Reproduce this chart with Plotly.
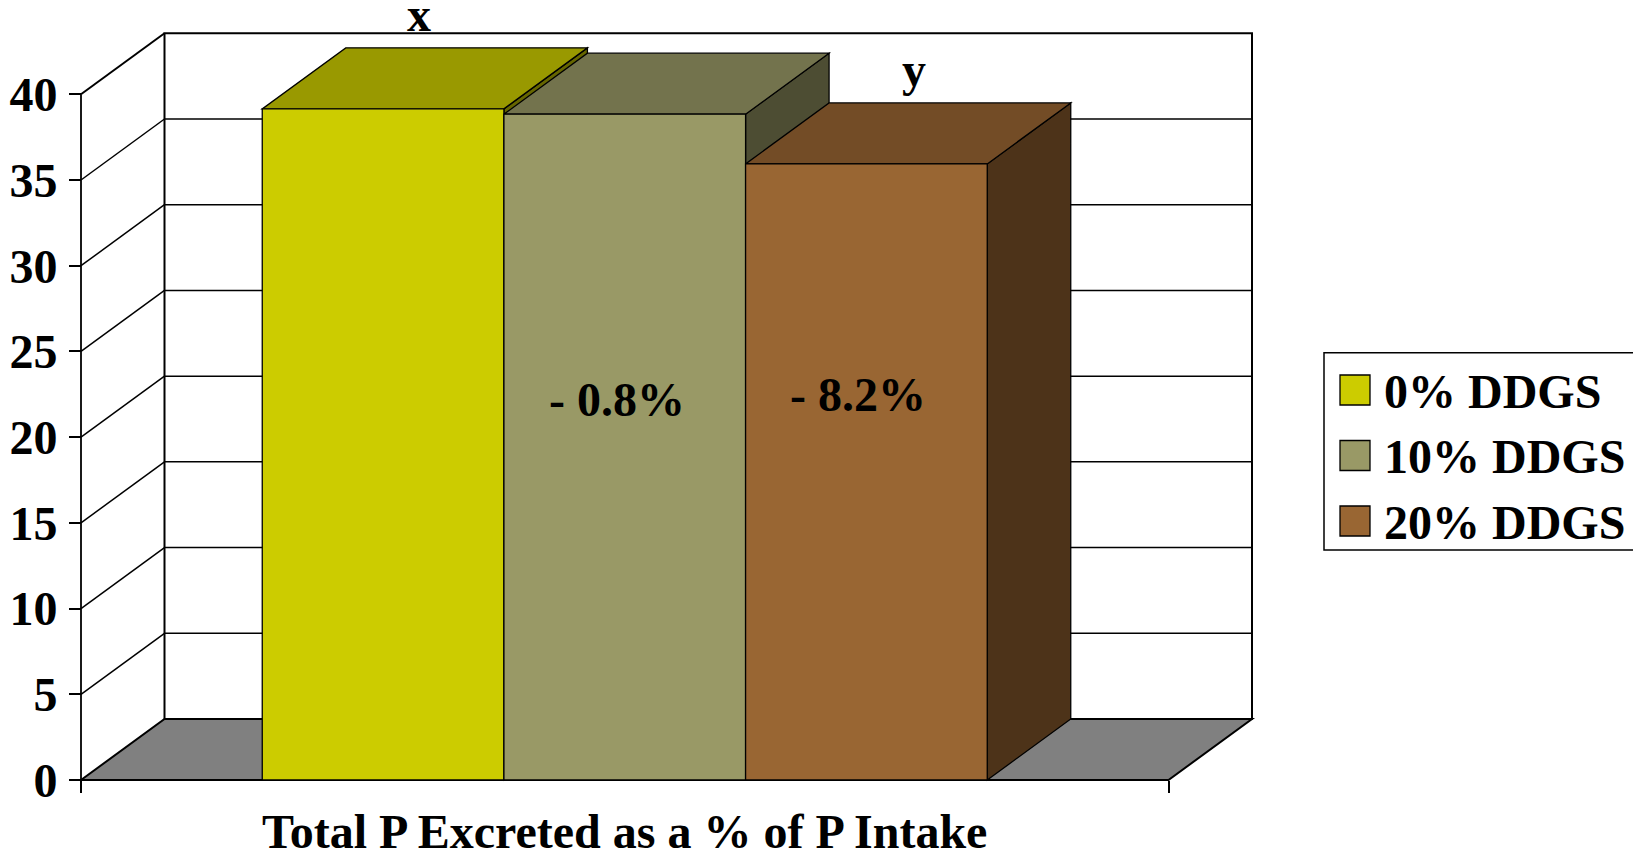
import plotly.graph_objects as go

# ---- data -------------------------------------------------------------
category = "Total P Excreted as a % of P Intake"
series_names = ["0% DDGS", "10% DDGS", "20% DDGS"]
values = [39.15, 38.84, 35.94]            # % of P intake excreted
change_labels = ["", "- 0.8%", "- 8.2%"]   # change relative to 0% DDGS
letters = ["x", "", "y"]                   # significance letters
y_ticks = [0, 5, 10, 15, 20, 25, 30, 35, 40]

# ---- colours (front / top / side of each column) ---------------------
front_colors = ["#CCCC00", "#999966", "#996633"]
top_colors = ["#999900", "#73734D", "#734C26"]
side_colors = ["#666600", "#4D4D33", "#4D3319"]
FLOOR = "#808080"

# ---- page geometry ---------------------------------------------------
W, H = 1633, 856
ML, MR, MT, MB = 70, 371, 20, 66
PW, PH = W - ML - MR, H - MT - MB
FRONT_LEFT_PX, FRONT_RIGHT_PX = 81.0, 1168.5      # front plane, x = -0.5 .. 0.5
ZERO_PX, TOP_PX = 780.0, 94.3                     # front plane, y = 0 .. 40
DEPTH_PX = (83.5, 61.0)                           # oblique depth offset

XS = (FRONT_RIGHT_PX - FRONT_LEFT_PX) / 1.0
YS = (ZERO_PX - TOP_PX) / 40.0
x_range = [-0.5 - (FRONT_LEFT_PX - ML) / XS, -0.5 + (ML + PW - FRONT_LEFT_PX) / XS]
y_range = [-(MT + PH - ZERO_PX) / YS, (ZERO_PX - MT) / YS]
DX, DY = DEPTH_PX[0] / XS, DEPTH_PX[1] / YS

BARGAP = 1 / 3
n = len(values)
bar_w = (1 - BARGAP) / n
lefts = [-(1 - BARGAP) / 2 + i * bar_w for i in range(n)]
rights = [l + bar_w for l in lefts]
centers = [l + bar_w / 2 for l in lefts]

FONT = dict(family="Liberation Serif", size=48, color="black", weight="bold")


def px_x(px):
    return (px - ML) / PW


def px_y(py):
    return (MT + PH - py) / PH


def poly(pts):
    return "M " + " L ".join(f"{x},{y}" for x, y in pts) + " Z"


fig = go.Figure()
for name, v, col in zip(series_names, values, front_colors):
    fig.add_trace(go.Bar(
        x=[0], y=[v], name=name, marker=dict(color=col, line=dict(color="black", width=1.3)),
        showlegend=False, hoverinfo="skip",
    ))

shapes = []
x0w, x1w = -0.5 + DX, 0.5 + DX
top = max(y_ticks)

# back wall
shapes.append(dict(type="rect", xref="x", yref="y", x0=x0w, x1=x1w, y0=DY, y1=top + DY,
                   fillcolor="white", line=dict(color="black", width=2), layer="below"))
for t in y_ticks[1:-1]:
    shapes.append(dict(type="line", xref="x", yref="y", x0=x0w, x1=x1w, y0=t + DY, y1=t + DY,
                       line=dict(color="black", width=1.5), layer="below"))
# side wall gridlines
for t in y_ticks[1:]:
    shapes.append(dict(type="line", xref="x", yref="y", x0=-0.5, x1=x0w, y0=t, y1=t + DY,
                       line=dict(color="black", width=1.5 if t < top else 2), layer="below"))
# floor
shapes.append(dict(type="path", xref="x", yref="y",
                   path=poly([(-0.5, 0), (x0w, DY), (x1w, DY), (0.5, 0)]),
                   fillcolor=FLOOR, line=dict(color="black", width=2), layer="below"))
# front value axis line
shapes.append(dict(type="line", xref="x", yref="y", x0=-0.5, x1=-0.5, y0=0, y1=top,
                   line=dict(color="black", width=1.8), layer="below"))

# column side and top faces
for i, v in enumerate(values):
    l, r = lefts[i], rights[i]
    shapes.append(dict(type="path", xref="x", yref="y",
                       path=poly([(r, 0), (r, v), (r + DX, v + DY), (r + DX, DY)]),
                       fillcolor=side_colors[i], line=dict(color="black", width=1.3), layer="below"))
    shapes.append(dict(type="path", xref="x", yref="y",
                       path=poly([(l, v), (r, v), (r + DX, v + DY), (l + DX, v + DY)]),
                       fillcolor=top_colors[i], line=dict(color="black", width=1.3), layer="below"))

annotations = []
letter_shift = [-6, 0, 6]
for i, v in enumerate(values):
    if letters[i]:
        annotations.append(dict(x=centers[i] + DX / 2, y=v + DY, xref="x", yref="y",
                                text=letters[i], showarrow=False, yanchor="bottom",
                                yshift=5, xshift=letter_shift[i], font=FONT))
label_y = [0, 22.2, 22.5]
for i, v in enumerate(values):
    if change_labels[i]:
        annotations.append(dict(x=centers[i], y=label_y[i], xref="x", yref="y",
                                text=change_labels[i], showarrow=False, xshift=-8,
                                font=FONT))

# legend box
LEG_L, LEG_T, LEG_B, LEG_R = 1324, 352.7, 550, 1645
shapes.append(dict(type="rect", xref="paper", yref="paper", x0=px_x(LEG_L), x1=px_x(LEG_R),
                   y0=px_y(LEG_B), y1=px_y(LEG_T), fillcolor="white",
                   line=dict(color="black", width=1.5), layer="above"))
row_centers = [390.0, 455.5, 521.0]
for name, col, rc in zip(series_names, front_colors, row_centers):
    shapes.append(dict(type="rect", xref="paper", yref="paper",
                       x0=px_x(1340), x1=px_x(1370), y0=px_y(rc + 15), y1=px_y(rc - 15),
                       fillcolor=col, line=dict(color="black", width=1.3), layer="above"))
    annotations.append(dict(x=px_x(1382), y=px_y(rc + 1), xref="paper", yref="paper",
                            text=name, showarrow=False, xanchor="left", yanchor="middle",
                            font=FONT))

fig.update_layout(
    width=W, height=H,
    margin=dict(l=ML, r=MR, t=MT, b=MB, pad=0, autoexpand=False),
    paper_bgcolor="white", plot_bgcolor="white",
    barmode="group", bargap=BARGAP, bargroupgap=0,
    showlegend=False, hovermode=False,
    shapes=shapes, annotations=annotations,
    xaxis=dict(
        range=x_range, showgrid=False, zeroline=False, showline=False, automargin=False,
        tickmode="array", tickvals=[0], ticktext=[category], ticks="",
        tickfont=FONT, ticklabelstandoff=19,
        anchor="free", position=px_y(ZERO_PX),
        minor=dict(tickmode="array", tickvals=[-0.5, 0.5], ticks="outside",
                   ticklen=12, tickwidth=1.5, tickcolor="black", showgrid=False),
    ),
    yaxis=dict(
        range=y_range, showgrid=False, zeroline=False, showline=False, automargin=False,
        tickmode="array", tickvals=y_ticks, ticks="outside", ticklen=12,
        tickwidth=1.5, tickcolor="black", tickfont=FONT, ticklabelstandoff=2,
        anchor="free", position=px_x(FRONT_LEFT_PX),
    ),
)

fig.write_html("out.html")
